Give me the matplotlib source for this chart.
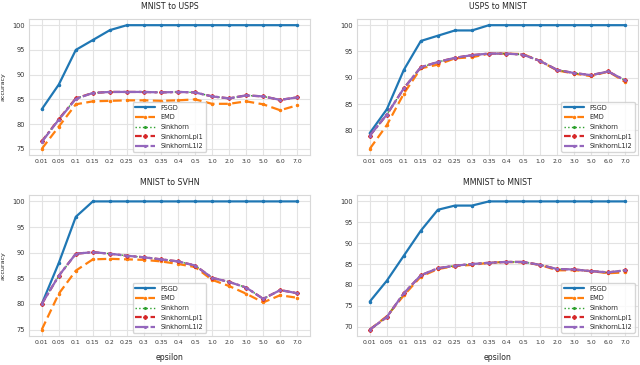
import matplotlib
matplotlib.use("Agg")
import matplotlib.pyplot as plt
import seaborn as sns
import numpy as np

sns.set_style("whitegrid")
plt.rcParams['font.family'] = ['DejaVu Sans']

eps_labels = ["0.01", "0.05", "0.1", "0.15", "0.2", "0.25", "0.3", "0.35", "0.4", "0.5",
              "1.0", "2.0", "3.0", "5.0", "6.0", "7.0"]

titles = ["MNIST to USPS", "USPS to MNIST", "MNIST to SVHN", "MMNIST to MNIST"]

# MNIST to USPS
m2u_fsgd = [83, 88, 95, 97, 99, 100, 100, 100, 100, 100, 100, 100, 100, 100, 100, 100]
m2u_emd = [75, 79.5, 84, 84.6, 84.7, 84.8, 84.8, 84.7, 84.8, 85, 84.1, 84.1, 84.6, 84, 82.8, 83.8]
m2u_sink = [76.5, 81, 85.2, 86.3, 86.5, 86.5, 86.5, 86.4, 86.5, 86.4, 85.6, 85.2, 85.8, 85.6, 84.9, 85.4]
m2u_lpl1 = [76.5, 81, 85.2, 86.3, 86.5, 86.5, 86.5, 86.4, 86.5, 86.4, 85.6, 85.2, 85.8, 85.6, 84.9, 85.4]
m2u_l1l2 = [76.4, 80.9, 85.1, 86.3, 86.5, 86.5, 86.5, 86.4, 86.5, 86.4, 85.6, 85.2, 85.8, 85.6, 84.9, 85.4]

# USPS to MNIST
u2m_fsgd = [79.5, 84, 91.5, 97, 98, 99, 99, 100, 100, 100, 100, 100, 100, 100, 100, 100]
u2m_emd = [76.5, 81, 87, 91.8, 92.5, 93.7, 93.9, 94.6, 94.6, 94.5, 93.2, 91.4, 90.8, 90.3, 91.2, 89.2]
u2m_sink = [79, 83, 88, 92, 93, 93.8, 94.3, 94.6, 94.6, 94.4, 93.2, 91.5, 90.9, 90.5, 91.2, 89.5]
u2m_lpl1 = [79, 83, 88, 92, 93, 93.8, 94.3, 94.6, 94.6, 94.4, 93.2, 91.5, 90.9, 90.5, 91.2, 89.5]
u2m_l1l2 = [79, 83, 88, 92, 93, 93.8, 94.3, 94.6, 94.6, 94.4, 93.2, 91.5, 90.9, 90.5, 91.2, 89.5]

# MNIST to SVHN
m2s_fsgd = [80, 88, 97, 100, 100, 100, 100, 100, 100, 100, 100, 100, 100, 100, 100, 100]
m2s_emd = [75, 82, 86.5, 88.7, 88.8, 88.7, 88.6, 88.3, 87.8, 87.2, 84.7, 83.5, 82, 80.3, 81.7, 81.2]
m2s_sink = [80, 85.5, 89.8, 90.1, 89.8, 89.4, 89.1, 88.7, 88.3, 87.5, 85.1, 84.3, 83.2, 81, 82.7, 82.1]
m2s_lpl1 = [80, 85.5, 89.8, 90.1, 89.8, 89.4, 89.1, 88.7, 88.3, 87.5, 85.1, 84.3, 83.2, 81, 82.7, 82.1]
m2s_l1l2 = [80, 85.5, 89.8, 90.1, 89.8, 89.4, 89.1, 88.7, 88.3, 87.5, 85.1, 84.3, 83.2, 81, 82.7, 82.1]

# MMNIST to MNIST
mm2m_fsgd = [76, 81, 87, 93, 98, 99, 99, 100, 100, 100, 100, 100, 100, 100, 100, 100]
mm2m_emd = [69.3, 72.5, 77.5, 82, 83.8, 84.5, 84.8, 85.3, 85.5, 85.4, 84.8, 83.5, 83.5, 83.3, 82.8, 83.0]
mm2m_sink = [69.3, 72.3, 78, 82.3, 84, 84.6, 85.0, 85.3, 85.5, 85.5, 84.8, 83.8, 83.7, 83.3, 83.0, 83.5]
mm2m_lpl1 = [69.3, 72.3, 78, 82.3, 84, 84.6, 85.0, 85.3, 85.5, 85.5, 84.8, 83.8, 83.7, 83.3, 83.0, 83.5]
mm2m_l1l2 = [69.3, 72.3, 78, 82.3, 84, 84.6, 85.0, 85.3, 85.5, 85.5, 84.8, 83.8, 83.7, 83.3, 83.0, 83.5]

series_names = ["FSGD", "EMD", "Sinkhorn", "SinkhornLpl1", "SinkhornL1l2"]
all_data = [
    [m2u_fsgd, m2u_emd, m2u_sink, m2u_lpl1, m2u_l1l2],
    [u2m_fsgd, u2m_emd, u2m_sink, u2m_lpl1, u2m_l1l2],
    [m2s_fsgd, m2s_emd, m2s_sink, m2s_lpl1, m2s_l1l2],
    [mm2m_fsgd, mm2m_emd, mm2m_sink, mm2m_lpl1, mm2m_l1l2],
]

colors = ["#1f77b4", "#ff7f0e", "#2ca02c", "#d62728", "#9467bd"]
styles = ["-", (0, (4, 2)), ":", (0, (3, 1.5, 1, 1.5)), (0, (6, 1))]
markers = [".", ".", ".", "P", "."]
msizes = [3, 3, 2.5, 2.5, 2.5]
lws = [1.6, 1.6, 1.0, 1.6, 1.6]

fig = plt.figure(figsize=(6.4, 3.65), dpi=100)
positions = [
    [29/640, 1-155/365, 281/640, 136/365],
    [357/640, 1-155/365, 281/640, 136/365],
    [29/640, 1-336/365, 281/640, 141/365],
    [357/640, 1-336/365, 281/640, 141/365],
]
legend_locs = ["lower center", "lower right", "lower center", "lower right"]

x = np.arange(len(eps_labels))
for i, (pos, title, data) in enumerate(zip(positions, titles, all_data)):
    ax = fig.add_axes(pos)
    for j, (name, ys) in enumerate(zip(series_names, data)):
        ax.plot(x, ys, color=colors[j], linestyle=styles[j], marker=markers[j],
                markersize=msizes[j], linewidth=lws[j], label=name)
    ax.set_xticks(x)
    ax.set_xticklabels(eps_labels)
    ax.tick_params(axis='x', labelsize=4.4, colors='#333333', pad=3, length=0)
    ax.tick_params(axis='y', labelsize=4.8, colors='#333333', pad=3, length=0)
    ax.set_title(title, fontsize=5.7, pad=7)
    ax.grid(True, color='#e3e3e3', linewidth=0.8)
    for s in ax.spines.values():
        s.set_color('#d8d8d8')
        s.set_linewidth(0.8)
    if i % 2 == 0:
        ax.set_ylabel("accuracy", fontsize=4.6, labelpad=5)
    if i >= 2:
        ax.set_xlabel("epsilon", fontsize=5.6, labelpad=6)
    leg = ax.legend(loc=legend_locs[i], fontsize=4.7, frameon=True, handlelength=3.0,
                    borderpad=0.4, labelspacing=0.55, handletextpad=0.9)
    leg.get_frame().set_edgecolor('#cccccc')
    leg.get_frame().set_alpha(0.8)

fig.savefig("out.png", dpi=100)
